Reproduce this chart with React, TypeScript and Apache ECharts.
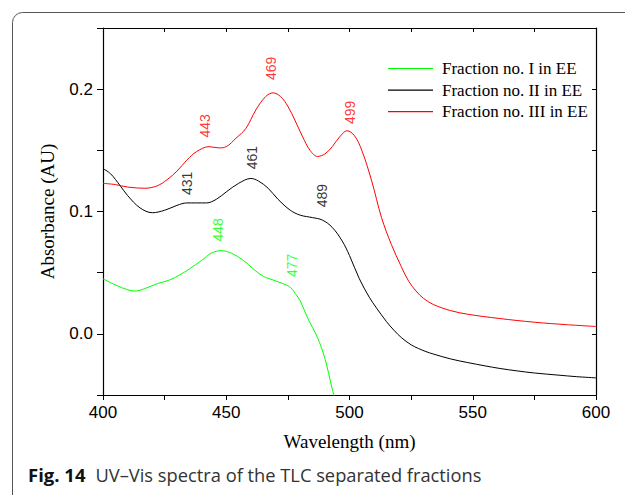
import React, { useEffect, useRef } from "react";
import * as echarts from "echarts";

// Fraction no. I in EE (green)
const wlI = [400, 405, 410, 413, 417, 422, 427, 431, 435, 440, 444, 448, 452, 457, 461, 465, 469, 473, 476, 478, 480, 483, 487, 490, 493, 495];
const absI = [0.045, 0.040, 0.036, 0.035, 0.037, 0.041, 0.044, 0.048, 0.053, 0.060, 0.066, 0.068, 0.066, 0.060, 0.053, 0.047, 0.044, 0.041, 0.038, 0.033, 0.027, 0.013, -0.003, -0.020, -0.045, -0.060];

// Fraction no. II in EE (black)
const wlII = [400, 403, 407, 410, 415, 420, 425, 430, 434, 438, 442, 446, 450, 455, 460, 463, 467, 471, 476, 480, 485, 489, 493, 497, 500, 504, 508, 511, 515, 518, 521, 525, 528, 531, 534, 541, 548, 555, 561, 568, 575, 585, 592, 600];
const absII = [0.135, 0.131, 0.121, 0.113, 0.103, 0.099, 0.101, 0.105, 0.107, 0.107, 0.107, 0.110, 0.116, 0.123, 0.127, 0.125, 0.119, 0.110, 0.101, 0.097, 0.095, 0.093, 0.087, 0.076, 0.064, 0.045, 0.030, 0.021, 0.010, 0.003, -0.003, -0.009, -0.012, -0.0145, -0.0165, -0.0205, -0.0235, -0.0262, -0.0283, -0.0303, -0.0320, -0.0338, -0.0350, -0.0360];

// Fraction no. III in EE (red)
const wlIII = [400, 405, 410, 417, 422, 426, 430, 434, 438, 443, 447, 450, 454, 458, 462, 466, 469, 472, 475, 478, 481, 484, 487, 490, 493, 496, 499, 502, 505, 509, 513, 517, 521, 524, 527, 530, 534, 541, 548, 561, 575, 588, 600];
const absIII = [0.123, 0.122, 0.120, 0.119, 0.121, 0.126, 0.133, 0.142, 0.149, 0.153, 0.152, 0.153, 0.160, 0.168, 0.183, 0.194, 0.197, 0.194, 0.186, 0.174, 0.161, 0.150, 0.145, 0.147, 0.153, 0.161, 0.166, 0.162, 0.150, 0.125, 0.095, 0.073, 0.055, 0.043, 0.035, 0.029, 0.024, 0.019, 0.016, 0.0125, 0.0095, 0.0075, 0.006];

const seriesNames = ["Fraction no. I in EE", "Fraction no. II in EE", "Fraction no. III in EE"];
const seriesColors = ["#00ff00", "#000000", "#ff0000"];

// Peak annotations: label text, wavelength, absorbance where the label sits, series index
const peakText = ["448", "477", "431", "461", "489", "443", "469", "499"];
const peakX = [446.7, 476.8, 434.1, 460.6, 489.0, 441.5, 468.3, 500.0];
const peakY = [0.085, 0.056, 0.123, 0.144, 0.113, 0.170, 0.217, 0.181];
const peakSeries = [0, 0, 1, 1, 1, 2, 2, 2];

const xTicks = [400, 450, 500, 550, 600];
const yTicks = [0.0, 0.1, 0.2];

const zip = (xs: number[], ys: number[]) => xs.map((x, i) => [x, ys[i]]);

export default function App() {
  const ref = useRef<HTMLDivElement>(null);
  useEffect(() => {
    document.body.style.margin = "0";
    const chart = echarts.init(ref.current!, undefined, { renderer: "svg" });
    const curves = [zip(wlI, absI), zip(wlII, absII), zip(wlIII, absIII)];
    const lineSeries = curves.map((d, i) => ({
      name: seriesNames[i],
      type: "line",
      data: d,
      smooth: 0.35,
      showSymbol: false,
      symbol: "none",
      clip: true,
      lineStyle: { color: seriesColors[i], width: 1 },
      itemStyle: { color: seriesColors[i] },
      z: 3,
    }));
    const peakSeriesObj = {
      type: "scatter",
      symbolSize: 0,
      silent: true,
      data: peakText.map((t, i) => ({
        value: [peakX[i], peakY[i]],
        name: t,
        label: { color: seriesColors[peakSeries[i]] },
      })),
      label: {
        show: true,
        position: "inside",
        rotate: 90,
        formatter: (p: any) => p.name,
        fontFamily: "Liberation Sans",
        fontSize: 14,
      },
      z: 4,
    };
    const axisFont = { fontFamily: "Liberation Sans", fontSize: 17, color: "#000" };
    const frameAxisLine = { show: true, onZero: false, lineStyle: { color: "#000", width: 1.2 } };
    chart.setOption({
      animation: false,
      grid: { left: 103, top: 28, right: 29, bottom: 100 },
      legend: {
        data: seriesNames.map((n, i) => ({ name: n, icon: "rect", itemStyle: { color: seriesColors[i] } })),
        orient: "vertical",
        left: 388,
        top: 59.5,
        padding: 0,
        itemWidth: 45,
        itemHeight: 1.2,
        itemGap: 3.6,
        textStyle: { fontFamily: "Liberation Serif", fontSize: 17, color: "#000", lineHeight: 18, padding: [0, 0, 0, 4] },
        selectedMode: false,
      },
      xAxis: [
        {
          type: "value",
          min: 400,
          max: 600,
          interval: 25,
          position: "bottom",
          axisLine: frameAxisLine,
          axisTick: { show: true, inside: false, length: 5, lineStyle: { color: "#000" } },
          splitLine: { show: false },
          axisLabel: {
            ...axisFont,
            margin: 9,
            formatter: (v: number) => (xTicks.includes(v) ? String(v) : ""),
          },
          name: "Wavelength (nm)",
          nameLocation: "middle",
          nameGap: 37,
          nameTextStyle: { fontFamily: "Liberation Serif", fontSize: 19, color: "#000" },
        },
        {
          type: "value",
          min: 400,
          max: 600,
          interval: 25,
          position: "top",
          axisLine: frameAxisLine,
          axisTick: { show: true, inside: true, length: 4, lineStyle: { color: "#000" } },
          axisLabel: { show: false },
          splitLine: { show: false },
        },
      ],
      yAxis: [
        {
          type: "value",
          min: -0.05,
          max: 0.25,
          interval: 0.05,
          position: "left",
          axisLine: frameAxisLine,
          axisTick: { show: true, inside: false, length: 6, lineStyle: { color: "#000" } },
          splitLine: { show: false },
          axisLabel: {
            ...axisFont,
            margin: 10,
            formatter: (v: number) => {
              const m = yTicks.find((t) => Math.abs(t - v) < 1e-6);
              return m === undefined ? "" : m.toFixed(1);
            },
          },
          name: "Absorbance (AU)",
          nameLocation: "middle",
          nameGap: 46,
          nameTextStyle: { fontFamily: "Liberation Serif", fontSize: 19, color: "#000" },
        },
        {
          type: "value",
          min: -0.05,
          max: 0.25,
          interval: 0.05,
          position: "right",
          axisLine: frameAxisLine,
          axisTick: { show: true, inside: true, length: 4, lineStyle: { color: "#000" } },
          axisLabel: { show: false },
          splitLine: { show: false },
        },
      ],
      series: [...lineSeries, peakSeriesObj],
      graphic: [
        {
          type: "rect",
          shape: { x: 12.5, y: 12.5, width: 700, height: 600, r: 10 },
          style: { fill: "none", stroke: "#555", lineWidth: 1 },
          silent: true,
        },
        {
          type: "text",
          left: 28,
          top: 465,
          style: {
            text: "{b|Fig. 14}   {r|UV–Vis spectra of the TLC separated fractions}",
            rich: {
              b: { fontFamily: "Open Sans", fontWeight: "bold", fontSize: 18.5, fill: "#111" },
              r: { fontFamily: "Open Sans", fontSize: 18.3, fill: "#333" },
            },
          },
        },
      ],
    });
    return () => chart.dispose();
  }, []);
  return <div ref={ref} style={{ width: 625, height: 495 }} />;
}
